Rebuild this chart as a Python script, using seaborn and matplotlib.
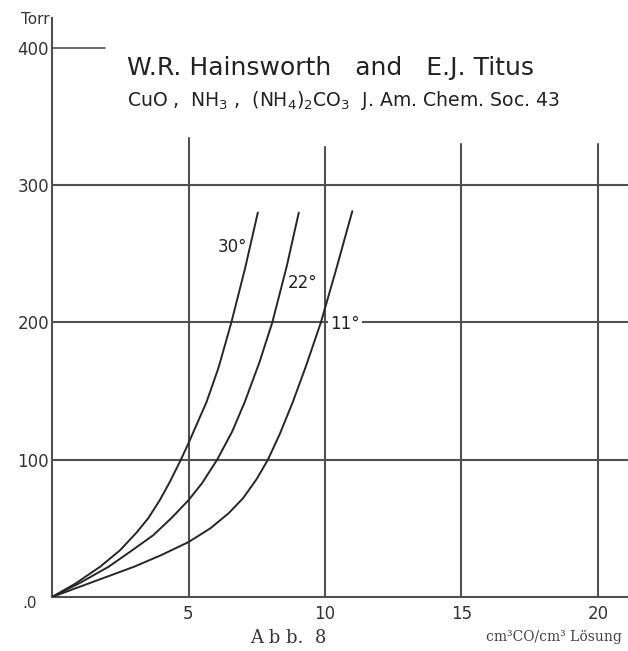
import matplotlib
matplotlib.use("Agg")
import matplotlib.pyplot as plt
import seaborn as sns
import pandas as pd

# ---- data ----
x_30 = [0, 0.85, 1.76, 2.49, 3.1, 3.53, 3.95, 4.32, 4.72, 5.0, 5.66, 6.1, 6.57, 7.08, 7.54]
y_30 = [0, 9.7, 22, 34, 47, 57.5, 70.6, 84, 100, 112, 142, 167, 200, 240, 280]
x_22 = [0, 1.0, 2.07, 2.9, 3.71, 4.4, 5.0, 5.5, 6.05, 6.6, 7.06, 7.6, 8.07, 8.6, 9.04]
y_22 = [0, 10, 22, 33.5, 45, 58, 70.5, 83, 100, 120.5, 142, 171, 200, 241, 280]
x_11 = [0, 1.5, 3.0, 4.0, 5.0, 5.8, 6.47, 7.0, 7.5, 7.91, 8.35, 8.82, 9.3, 9.85, 10.4, 11.0]
y_11 = [0, 11, 22, 30.5, 40, 50, 61, 72, 86, 100, 119, 142, 168, 200, 238, 281]
curve_labels = ["30°", "22°", "11°"]
x_ticks = [5, 10, 15, 20]
y_ticks = [100, 200, 300, 400]

df = pd.concat([
    pd.DataFrame({"x": x_30, "y": y_30, "T": "30°"}),
    pd.DataFrame({"x": x_22, "y": y_22, "T": "22°"}),
    pd.DataFrame({"x": x_11, "y": y_11, "T": "11°"}),
])

sns.set_style("white")
plt.rcParams["font.family"] = ["DejaVu Sans"]

W, H = 628, 651
fig = plt.figure(figsize=(W / 100, H / 100), dpi=100)
x0, y0 = 52, 597
px_x = 27.3   # pixels per x unit
px_y = 1.373  # pixels per y unit
xmax = (W - x0) / px_x
ymax = (y0 - 18) / px_y
ax = fig.add_axes([x0 / W, (H - y0) / H, (W - x0) / W, (y0 - 18) / H])
ax.set_xlim(0, xmax)
ax.set_ylim(0, ymax)

line_col = "#262626"
grid_col = "#505050"

# grid lines
for yv in y_ticks[:3]:
    ax.plot([0, xmax], [yv, yv], color=grid_col, lw=1.5, zorder=1)
ax.plot([0, 1.94], [400, 400], color=grid_col, lw=1.2, zorder=1)
vtops = [334, 328, 330, 330]
for xv, top in zip(x_ticks, vtops):
    ax.plot([xv, xv], [0, top], color=grid_col, lw=1.5, zorder=1)

sns.lineplot(data=df, x="x", y="y", hue="T", palette=[line_col] * 3,
             sort=False, estimator=None, lw=1.4, legend=False, ax=ax, zorder=3)

ax.text(7.14, 255, curve_labels[0], fontsize=12, ha="right", va="center",
        color="#222", zorder=4)
ax.text(8.64, 229, curve_labels[1], fontsize=12, ha="left", va="center",
        color="#222", zorder=4)
ax.text(10.2, 199, curve_labels[2], fontsize=12, ha="left", va="center",
        color="#222", zorder=4,
        bbox=dict(facecolor="white", edgecolor="none", pad=1.5))

for s in ["top", "right"]:
    ax.spines[s].set_visible(False)
for s in ["left", "bottom"]:
    ax.spines[s].set_color(grid_col)
    ax.spines[s].set_linewidth(1.5)

ax.set_xticks(x_ticks)
ax.set_xticklabels([str(v) for v in x_ticks], fontsize=12, color="#333")
ax.set_yticks(y_ticks)
ax.set_yticklabels([str(v) for v in y_ticks], fontsize=12, color="#333")
ax.tick_params(axis="both", length=0)
ax.tick_params(axis="x", pad=6)
ax.tick_params(axis="y", pad=2)
ax.set_xlabel("")
ax.set_ylabel("")

fig.text(22 / W, 1 - 603 / H, ".0", fontsize=11, color="#333", ha="left", va="center")
fig.text(21 / W, 1 - 19 / H, "Torr", fontsize=11, color="#333", ha="left", va="center")

fig.text(127 / W, 1 - 68 / H, "W.R. Hainsworth   and   E.J. Titus",
         fontsize=18, color="#222", ha="left", va="center")
fig.text(127 / W, 1 - 101 / H,
         r"CuO ,  NH$_3$ ,  (NH$_4$)$_2$CO$_3$  J. Am. Chem. Soc. 43",
         fontsize=13.6, color="#222", ha="left", va="center")

fig.text(288 / W, 1 - 638 / H, "A b b.  8", fontsize=13, color="#333",
         ha="center", va="center", family="DejaVu Serif")
fig.text(622 / W, 1 - 637 / H, "cm³CO/cm³ Lösung", fontsize=10, color="#444",
         ha="right", va="center", family="DejaVu Serif")

fig.savefig("out.png", dpi=100)
